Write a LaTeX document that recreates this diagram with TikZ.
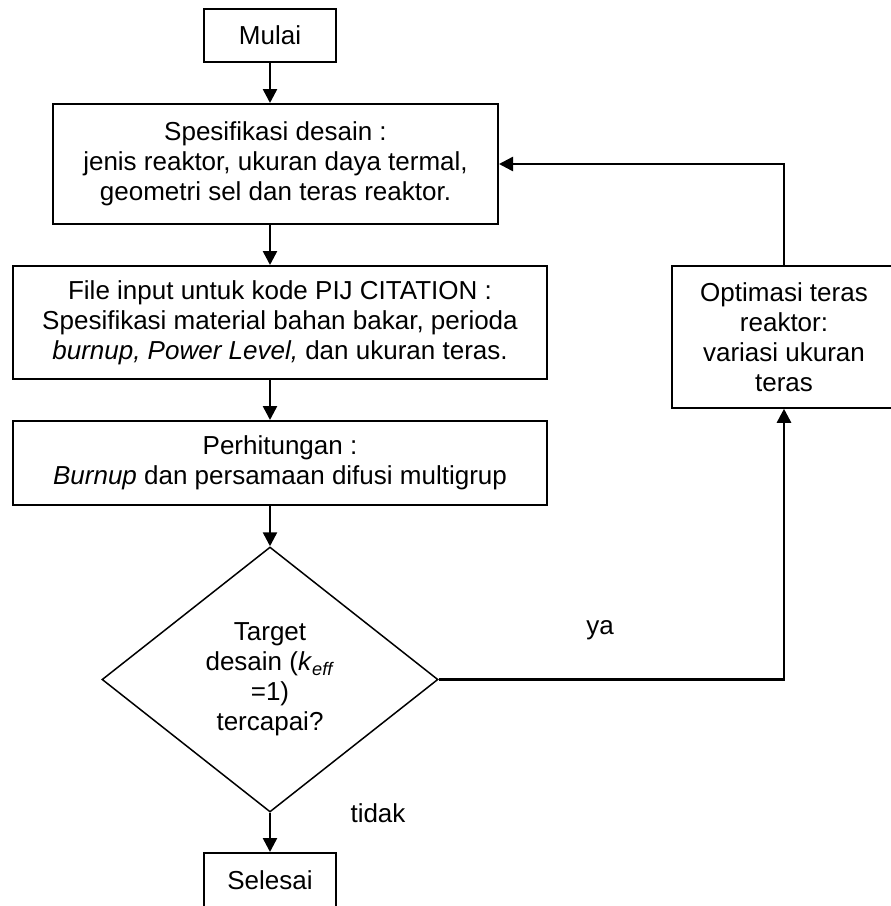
\documentclass[tikz,border=0pt]{standalone}
\usepackage{fontspec}
\setmainfont{Liberation Sans}
\usetikzlibrary{arrows.meta,positioning,shapes.geometric}
\tikzset{
  >={Triangle[length=14pt,width=14pt]},
  procbox/.style={draw,line width=2pt,align=center,inner sep=0pt,
    font=\fontsize{26}{30}\selectfont},
  optbox/.style={procbox,line width=1.5pt},
  decbox/.style={diamond,draw,line width=1.5pt,align=center,inner sep=0pt,
    aspect=1.27,font=\fontsize{26}{30}\selectfont},
  flow/.style={->,line width=2.5pt},
  flowlbl/.style={font=\fontsize{26}{30}\selectfont,inner sep=0pt},
}

\begin{document}
\begin{tikzpicture}[x=1pt,y=-1pt]
  \useasboundingbox (0,0) rectangle (891,906);
  \node[procbox,minimum width=132pt,minimum height=53pt] (mulai) at (270,35.5) {Mulai};
  \node[procbox,minimum width=445pt,minimum height=120pt] (spek) at (275.5,164)
    {Spesifikasi desain :\\jenis reaktor, ukuran daya termal,\\geometri sel dan teras reaktor.};
  \node[procbox,minimum width=534pt,minimum height=113pt] (input) at (280,322.5)
    {File input untuk kode PIJ CITATION :\\Spesifikasi material bahan bakar, perioda\\
     \textit{burnup, Power Level,} dan ukuran teras.};
  \node[procbox,minimum width=534pt,minimum height=84pt] (hitung) at (280,463)
    {Perhitungan :\\\textit{Burnup} dan persamaan difusi multigrup};
  \node[decbox,minimum width=336pt,minimum height=265pt] (target) at (270,679.5)
    {Target\\desain (\textit{k}\textsubscript{\textit{eff}}\\=1)\\tercapai?};
  \node[procbox,minimum width=132pt,minimum height=54pt] (selesai) at (270,880) {Selesai};
  \node[optbox,minimum width=224pt,minimum height=142pt] (opt) at (784,337)
    {Optimasi teras\\reaktor:\\variasi ukuran\\teras};
  % alur utama
  \draw[flow] (mulai.south) -- (mulai.south |- spek.north);
  \draw[flow] (mulai.south |- spek.south) -- (mulai.south |- input.north);
  \draw[flow] (mulai.south |- input.south) -- (mulai.south |- hitung.north);
  \draw[flow] (mulai.south |- hitung.south) -- (target.north);
  \draw[flow] (target.south) -- (selesai.north);
  % umpan balik
  \draw[flow] (target.east) -| (opt.south);
  \draw[flow] (opt.north) |- (spek.east);
  \node[flowlbl] (ya) at (600,630) {ya};
  \node[flowlbl] (tidak) at (378,813) {tidak};
\end{tikzpicture}
\end{document}
